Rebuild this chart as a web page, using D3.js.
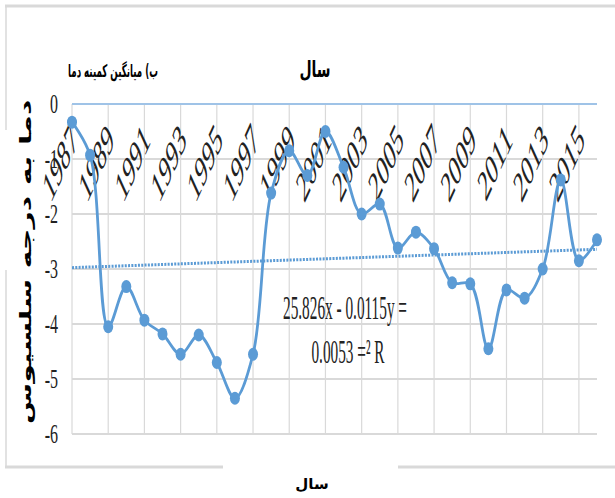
<!DOCTYPE html>
<html><head><meta charset="utf-8">
<script src="https://cdn.jsdelivr.net/npm/d3@7"></script>
<style>body{margin:0;background:#fff;} svg{display:block}</style>
</head><body>
<script>
// ---- data ----
const years = [1987,1988,1989,1990,1991,1992,1993,1994,1995,1996,1997,1998,1999,2000,2001,
               2002,2003,2004,2005,2006,2007,2008,2009,2010,2011,2012,2013,2014,2015,2016];
const tminValues = [-0.33,-0.93,-4.05,-3.32,-3.93,-4.18,-4.55,-4.2,-4.7,-5.35,-4.55,-1.62,-0.85,-1.3,-0.5,
                    -1.15,-2.0,-1.82,-2.62,-2.33,-2.63,-3.25,-3.27,-4.45,-3.38,-3.53,-3.0,-1.38,-2.85,-2.47];
const yTicks = [0,-1,-2,-3,-4,-5,-6];
const xTickYears = [1987,1989,1991,1993,1995,1997,1999,2001,2003,2005,2007,2009,2011,2013,2015];
const trendSlope = 0.0115, trendIntercept = -25.826;
const chartTitle = "سال";
const subTitle = "ب) میانگین کمینه دما";
const yAxisTitle = "دما به درجه سلسیوس";
const xAxisTitle = "سال";
const eqLine1 = "25.826x - 0.0115y =";
const eqLine2 = "0.0053 =\u00B2 R";

// ---- drawing ----
const W = 615, H = 498;
const svg = d3.select("body").append("svg").attr("width", W).attr("height", H);
const K = 1.75; // vertical stretch of the picture

const x = d3.scaleLinear().domain([1987, 2016]).range([72, 597]);
const y = d3.scaleLinear().domain([-6, 0]).range([434, 104]);

const blue = "#5b9bd5", grid = "#d9d9d9";

// frame
const frame = svg.append("g").attr("stroke", grid).attr("fill", "none");
frame.append("line").attr("x1", 5).attr("x2", 615).attr("y1", 6).attr("y2", 6).attr("stroke-width", 3);
frame.append("line").attr("x1", 6).attr("x2", 6).attr("y1", 6).attr("y2", 130).attr("stroke-width", 1.5);
frame.append("line").attr("x1", 6).attr("x2", 6).attr("y1", 270).attr("y2", 467).attr("stroke-width", 1.5);
frame.append("line").attr("x1", 5).attr("x2", 223).attr("y1", 467).attr("y2", 467).attr("stroke-width", 3);
frame.append("line").attr("x1", 398).attr("x2", 615).attr("y1", 467).attr("y2", 467).attr("stroke-width", 3);

// gridlines
svg.append("g").selectAll("line").data(xTickYears).join("line")
  .attr("x1", d => x(d)).attr("x2", d => x(d))
  .attr("y1", y(0)).attr("y2", y(-6))
  .attr("stroke", grid).attr("stroke-width", 1.2);
svg.append("g").selectAll("line").data(yTicks).join("line")
  .attr("x1", x(1987)).attr("x2", x(2016))
  .attr("y1", d => y(d)).attr("y2", d => y(d))
  .attr("stroke", d => d === 0 ? "#9fc3e7" : grid).attr("stroke-width", 2);

// y tick labels
svg.append("g").selectAll("text").data(yTicks).join("text")
  .attr("transform", d => `translate(58,${y(d) + 9}) scale(1,${K})`)
  .attr("text-anchor", "end")
  .attr("font-family", "Liberation Serif, Times New Roman, serif")
  .attr("font-size", 16).attr("fill", "#222")
  .text(d => d);

// x tick labels (rotated, then stretched vertically)
svg.append("g").selectAll("text").data(xTickYears).join("text")
  .attr("transform", d => `matrix(0.7071,-1.55,0.7071,1.55,${x(d) + 7},142)`)
  .attr("text-anchor", "end")
  .attr("font-family", "Liberation Serif, Times New Roman, serif")
  .attr("font-size", 20).attr("fill", "#222")
  .text(d => d);

// trend line
const trend = d => trendSlope * d + trendIntercept;
svg.append("line")
  .attr("x1", x(years[0])).attr("y1", y(trend(years[0])))
  .attr("x2", x(years[years.length - 1])).attr("y2", y(trend(years[years.length - 1])))
  .attr("stroke", blue).attr("stroke-width", 3).attr("stroke-dasharray", "2,1.3");

// data line
const pts = years.map((yr, i) => [yr, tminValues[i]]);
svg.append("path").datum(pts)
  .attr("d", d3.line().x(d => x(d[0])).y(d => y(d[1])).curve(d3.curveCatmullRom.alpha(0.5)))
  .attr("fill", "none").attr("stroke", blue).attr("stroke-width", 2.8);
svg.append("g").selectAll("ellipse").data(pts).join("ellipse")
  .attr("cx", d => x(d[0])).attr("cy", d => y(d[1]))
  .attr("rx", 5).attr("ry", 6.5).attr("fill", blue);

// equation
const eq = svg.append("g")
  .attr("font-family", "Liberation Serif, Times New Roman, serif")
  .attr("font-size", 17).attr("fill", "#222").attr("text-anchor", "middle");
eq.append("text").attr("transform", `translate(345,319) scale(0.9,1.95)`).text(eqLine1);
eq.append("text").attr("transform", `translate(348,363) scale(0.9,1.95)`).text(eqLine2);

// title
svg.append("text")
  .attr("transform", `translate(315,77) scale(1,1.6)`)
  .attr("text-anchor", "middle")
  .attr("font-family", "DejaVu Sans, sans-serif").attr("font-weight", "bold")
  .attr("font-size", 14).attr("fill", "#000")
  .text(chartTitle);

// subtitle
const sub = svg.append("text")
  .attr("font-family", "DejaVu Sans, sans-serif").attr("font-weight", "bold")
  .attr("font-size", 11).attr("fill", "#000")
  .text(subTitle);
{
  const L = sub.node().getComputedTextLength();
  sub.attr("transform", `translate(68,77) scale(${90 / L},1.6)`);
}

// y axis title
const yt = svg.append("text")
  .attr("text-anchor", "middle")
  .attr("font-family", "DejaVu Sans, sans-serif").attr("font-weight", "bold")
  .attr("font-size", 16).attr("fill", "#000")
  .text(yAxisTitle);
{
  const L = yt.node().getComputedTextLength();
  yt.attr("transform", `translate(31,262) scale(1,${325 / L}) rotate(-90)`);
}

// bottom axis title
svg.append("text")
  .attr("x", 312).attr("y", 489)
  .attr("text-anchor", "middle")
  .attr("font-family", "DejaVu Sans, sans-serif").attr("font-weight", "bold")
  .attr("font-size", 15).attr("fill", "#000")
  .text(xAxisTitle);
</script>
</body></html>
